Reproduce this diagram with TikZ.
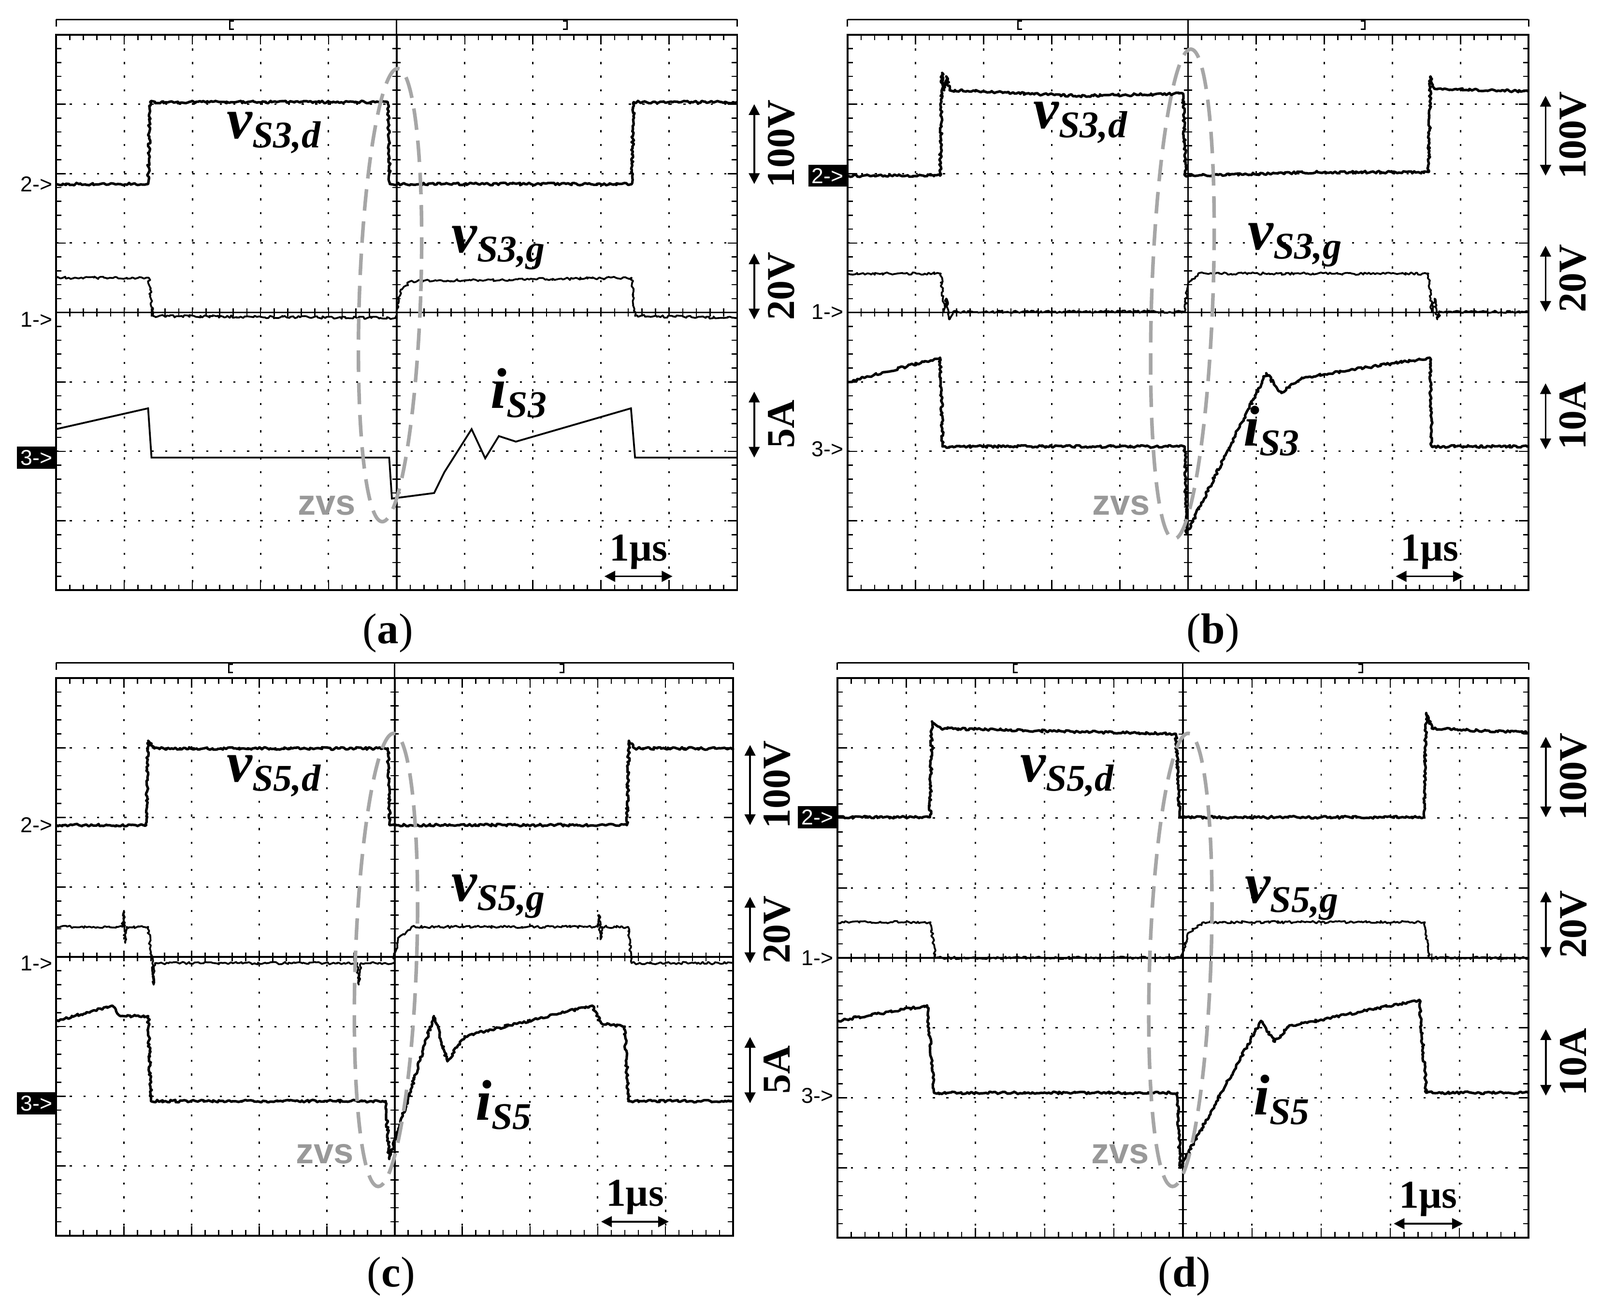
\documentclass[tikz,border=0pt]{standalone}
\usepackage{fontspec}
\setmainfont{Liberation Serif}
\setsansfont{Liberation Sans}
\usetikzlibrary{decorations.pathmorphing,arrows.meta}
\tikzset{
 trace/.style={line width=1.4pt,line join=round,decorate,decoration={random steps,segment length=1pt,amplitude=0.7pt}},
 gline/.style={line width=0.8pt,dash pattern=on 1.2pt off 6.4pt},
 frame/.style={line width=1pt},
 zvs/.style={gray!70,line width=2pt,dash pattern=on 12pt off 6pt},
 mk/.style={font=\sffamily\fontsize{12}{12}\selectfont,anchor=east,inner sep=2pt},
 mkb/.style={mk,fill=black,text=white},
 sc/.style={font=\bfseries\fontsize{22}{22}\selectfont,rotate=90},
 sca/.style={{Triangle[length=6pt,width=6pt]}-{Triangle[length=6pt,width=6pt]},line width=1pt},
 lab/.style={font=\bfseries\itshape\fontsize{32}{32}\selectfont},
 zt/.style={text=gray!80,font=\sffamily\bfseries\fontsize{20}{20}\selectfont},
 captxt/.style={font=\fontsize{24}{24}\selectfont}
}
\newcommand\sub[1]{\raisebox{-0.35ex}{\fontsize{21}{21}\selectfont #1}}
\newcommand\oscgrid[2]{% bracket positions
 \draw[frame] (0,0) rectangle (10,8);
 \foreach \i in {1,2,3,4,6,7,8,9} \draw[gline] (\i,0) -- (\i,8);
 \foreach \j in {1,2,3,5,6,7} \draw[gline] (0,\j) -- (10,\j);
 \draw[frame] (5,0) -- (5,8) (0,4) -- (10,4);
 \foreach \k in {1,...,49} {
   \draw[line width=0.7pt] (\k/5,0) -- (\k/5,0.08) (\k/5,8) -- (\k/5,7.92) (\k/5,3.94) -- (\k/5,4.06);}
 \foreach \k in {1,...,39} {
   \draw[line width=0.7pt] (0,\k/5) -- (0.08,\k/5) (10,\k/5) -- (9.92,\k/5) (4.94,\k/5) -- (5.06,\k/5);}
 \foreach \i in {1,...,9} \draw[line width=0.7pt] (\i,0) -- (\i,0.14) (\i,8) -- (\i,7.86);
 \foreach \j in {1,...,7} \draw[line width=0.7pt] (0,\j) -- (0.14,\j) (10,\j) -- (9.86,\j);
 \draw[line width=0.8pt] (0,-0.22) -- (10,-0.22) (5,-0.22) -- (5,0) (0,-0.22)--(0,-0.12) (10,-0.22)--(10,-0.12);
 \draw[line width=0.8pt] (#1+0.06,-0.2) -- (#1,-0.2) -- (#1,-0.08) -- (#1+0.06,-0.08);
 \draw[line width=0.8pt] (#2-0.06,-0.2) -- (#2,-0.2) -- (#2,-0.08) -- (#2-0.06,-0.08);
 \draw[sca] (8.05,7.8) -- (9.05,7.8);
 \node[font=\bfseries\fontsize{22}{22}\selectfont] at (8.55,7.45) {1µs};
}
\newcommand\scales[6]{% y of ch2, ch1, ch3 markers and labels
 \draw[sca] (10.25,#1-1.15) -- (10.25,#1);
 \node[sc] at (10.65,#1-0.58) {#4};
 \draw[sca] (10.25,#2-0.95) -- (10.25,#2);
 \node[sc] at (10.65,#2-0.48) {#5};
 \draw[sca] (10.25,#3-0.95) -- (10.25,#3);
 \node[sc] at (10.65,#3-0.48) {#6};
}
\begin{document}
\begin{tikzpicture}[x=0.02cm,y=-0.02cm]
\useasboundingbox (0,0) rectangle (1567,1274);
% ---------- (a)
\begin{scope}[shift={(55*0.02cm,-34*0.02cm)},x=66.7*0.02cm,y=-68*0.02cm]
 \oscgrid{2.55}{7.5}
 \node[mk] (m2a) at (0,2.15) {2->};
 \node[mk] (m1a) at (0,4.1) {1->};
 \node[mkb] (m3a) at (0,6.09) {3->};
 \draw[trace] (0,2.15) -- (1.35,2.15) -- (1.38,0.97) -- (4.87,0.97) -- (4.9,2.15) -- (8.45,2.15) -- (8.48,0.97) -- (10,0.97);
 \draw[trace,line width=1pt] (0,3.5) -- (1.36,3.5) -- (1.42,4.05) -- (4.98,4.08) -- (5.05,3.7) -- (5.2,3.55) -- (8.45,3.5) -- (8.5,4.05) -- (10,4.08);
 \draw[line width=1pt] (0,5.68) -- (1.35,5.38) -- (1.4,6.09) -- (4.89,6.09) -- (4.93,6.68) -- (5.55,6.6) -- (5.7,6.3) -- (6.1,5.68) -- (6.3,6.1) -- (6.5,5.78) -- (6.75,5.86) -- (8.44,5.38) -- (8.5,6.09) -- (10,6.09);
 \scales{2.15}{4.1}{6.09}{100V}{20V}{5A}
\end{scope}
\draw[zvs] (382,289) ellipse [x radius=30, y radius=222, rotate=-2];
\node[lab] (la1) at (268,130) {v\sub{S3,d}};
\node[lab] (la2) at (488,243) {v\sub{S3,g}};
\node[lab] (la3) at (508,385) {i\sub{S3}};
\node[zt] (za) at (320,495) {zvs};
\node[captxt] (ca) at (380,620) {(\textbf{a})};
% ---------- (b)
\begin{scope}[shift={(830*0.02cm,-34*0.02cm)},x=66.7*0.02cm,y=-68*0.02cm]
 \oscgrid{2.5}{7.6}
 \node[mkb] (m2b) at (0,2.03) {2->};
 \node[mk] (m1b) at (0,3.99) {1->};
 \node[mk] (m3b) at (0,5.97) {3->};
 \draw[trace] (0,2.03) -- (1.36,2.03) -- (1.39,0.55) -- (1.42,0.8) -- (1.45,0.6) -- (1.5,0.8) -- (3.4,0.88) -- (4.93,0.85) -- (4.96,2.03) -- (6.9,1.98) -- (8.53,1.98) -- (8.56,0.6) -- (8.62,0.78) -- (9.5,0.8) -- (10,0.82);
 \draw[trace,line width=1pt] (0,3.44) -- (1.37,3.44) -- (1.42,4.0) -- (1.45,3.8) -- (1.5,4.1) -- (1.55,3.99) -- (4.95,3.99) -- (5.0,3.6) -- (5.15,3.44) -- (8.53,3.44) -- (8.58,4.0) -- (8.62,3.8) -- (8.66,4.1) -- (8.7,3.99) -- (10,3.99);
 \draw[trace] (0,5.0) -- (1.36,4.65) -- (1.4,5.93) -- (4.95,5.93) -- (4.98,7.18) -- (6.15,4.87) -- (6.37,5.16) -- (6.67,4.94) -- (8.55,4.65) -- (8.58,5.93) -- (10,5.93);
 \scales{2.03}{3.99}{5.97}{100V}{20V}{10A}
\end{scope}
\draw[zvs] (1158,288) ellipse [x radius=30, y radius=240, rotate=-2];
\node[lab] (lb1) at (1058,120) {v\sub{S3,d}};
\node[lab] (lb2) at (1268,240) {v\sub{S3,g}};
\node[lab] (lb3) at (1245,422) {i\sub{S3}};
\node[zt] (zb) at (1098,495) {zvs};
\node[captxt] (cb) at (1188,620) {(\textbf{b})};
% ---------- (c)
\begin{scope}[shift={(55*0.02cm,-664*0.02cm)},x=66.3*0.02cm,y=-68.25*0.02cm]
 \oscgrid{2.55}{7.5}
 \node[mk] (m2c) at (0,2.11) {2->};
 \node[mk] (m1c) at (0,4.09) {1->};
 \node[mkb] (m3c) at (0,6.1) {3->};
 \draw[trace] (0,2.11) -- (1.33,2.11) -- (1.36,0.9) -- (1.45,1.01) -- (4.9,1.01) -- (4.93,2.11) -- (8.43,2.11) -- (8.46,0.9) -- (8.55,1.01) -- (10,1.01);
 \draw[trace,line width=1pt] (0,3.57) -- (0.98,3.57) -- (1.0,3.35) -- (1.02,3.8) -- (1.04,3.57) -- (1.36,3.57) -- (1.42,4.09) -- (1.44,4.4) -- (1.46,4.09) -- (4.45,4.09) -- (4.47,4.4) -- (4.5,4.09) -- (4.98,4.09) -- (5.05,3.75) -- (5.25,3.57) -- (8.0,3.57) -- (8.02,3.4) -- (8.04,3.75) -- (8.06,3.57) -- (8.45,3.57) -- (8.5,4.09) -- (10,4.09);
 \draw[trace] (0,4.92) -- (0.83,4.7) -- (0.95,4.85) -- (1.36,4.85) -- (1.4,6.07) -- (4.87,6.07) -- (4.92,6.9) -- (5.58,4.85) -- (5.78,5.5) -- (6.03,5.14) -- (7.92,4.7) -- (8.05,4.95) -- (8.4,5.0) -- (8.45,6.07) -- (10,6.07);
 \scales{2.11}{4.09}{6.1}{100V}{20V}{5A}
\end{scope}
\draw[zvs] (378,940) ellipse [x radius=30, y radius=222, rotate=-2];
\node[lab] (lc1) at (268,760) {v\sub{S5,d}};
\node[lab] (lc2) at (488,878) {v\sub{S5,g}};
\node[lab] (lc3) at (493,1082) {i\sub{S5}};
\node[zt] (zc) at (318,1130) {zvs};
\node[captxt] (cc) at (383,1250) {(\textbf{c})};
% ---------- (d)
\begin{scope}[shift={(820*0.02cm,-664*0.02cm)},x=67.7*0.02cm,y=-68.5*0.02cm]
 \oscgrid{2.55}{7.6}
 \node[mkb] (m2d) at (0,1.99) {2->};
 \node[mk] (m1d) at (0,4.0) {1->};
 \node[mk] (m3d) at (0,5.97) {3->};
 \draw[trace] (0,1.99) -- (1.34,1.99) -- (1.37,0.62) -- (1.5,0.72) -- (4.9,0.8) -- (4.95,1.99) -- (8.49,1.99) -- (8.52,0.5) -- (8.6,0.72) -- (10,0.78);
 \draw[trace,line width=1pt] (0,3.49) -- (1.35,3.49) -- (1.42,4.0) -- (4.98,4.0) -- (5.07,3.65) -- (5.3,3.49) -- (8.5,3.49) -- (8.56,4.0) -- (10,4.0);
 \draw[trace] (0,4.9) -- (1.3,4.68) -- (1.4,5.93) -- (4.92,5.93) -- (4.96,7.0) -- (6.13,4.9) -- (6.33,5.2) -- (6.53,4.98) -- (8.42,4.6) -- (8.52,5.93) -- (10,5.93);
 \scales{1.99}{4.0}{5.97}{100V}{20V}{10A}
\end{scope}
\draw[zvs] (1156,940) ellipse [x radius=30, y radius=222, rotate=-2];
\node[lab] (ld1) at (1045,760) {v\sub{S5,d}};
\node[lab] (ld2) at (1265,880) {v\sub{S5,g}};
\node[lab] (ld3) at (1255,1077) {i\sub{S5}};
\node[zt] (zd) at (1097,1130) {zvs};
\node[captxt] (cd) at (1160,1250) {(\textbf{d})};
\end{tikzpicture}
\end{document}
